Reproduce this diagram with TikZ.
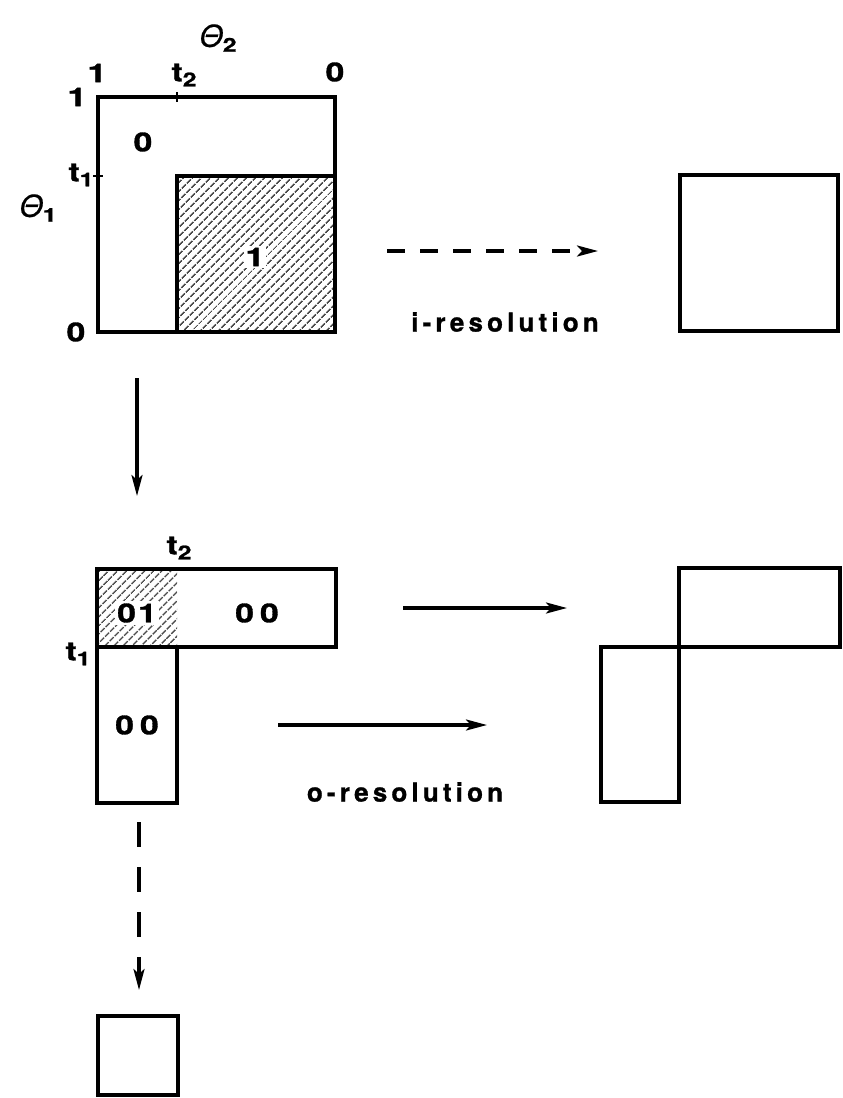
\documentclass[tikz,border=0pt]{standalone}
\usepackage{fontspec}
\setmainfont{TeX Gyre Heros}
\newfontfamily\labfont[FakeStretch=1.3,FakeBold=1.2]{TeX Gyre Heros}
\newfontfamily\grfont[FakeBold=0.6]{TeX Gyre Heros}
\newfontfamily\resfont[LetterSpace=16,FakeBold=1]{TeX Gyre Heros}
\usetikzlibrary{arrows.meta,patterns.meta}
\newcommand{\lsub}[2]{#1\raisebox{-5pt}{\fontsize{19}{19}\selectfont #2}}
\begin{document}
\begin{tikzpicture}[x=1pt,y=-1pt,
  outline/.style={line width=3.6pt, line join=miter},
  hatch/.style={pattern={Lines[angle=45,distance=6.5pt,line width=1.6pt]}, pattern color=black!70},
  arr/.style={line width=3.2pt, -{Stealth[length=21pt,width=11pt,inset=5pt]}},
  darrh/.style={arr, dash pattern=on 18pt off 15pt},
  darrv/.style={arr, dash pattern=on 25pt off 20pt},
  num/.style={font=\labfont\bfseries\fontsize{26}{26}\selectfont, inner sep=1pt},
  hnum/.style={num, fill=white, inner sep=2pt},
  greek/.style={font=\grfont\fontsize{30}{30}\selectfont\itshape, inner sep=0pt},
  res/.style={font=\resfont\bfseries\fontsize{26}{26}\selectfont, inner sep=0pt},
  tick/.style={line width=1.8pt}]
\path[use as bounding box] (0,0) rectangle (843,1098);

% ---- unit square with the region theta >= t ----
\fill[hatch] (177,176) rectangle (335,332);
\draw[outline] (98,97) rectangle (335,332);
\draw[outline] (177,332) -- (177,176) -- (335,176);
\draw[tick] (177,92) -- (177,102);
\draw[tick] (93,176) -- (103,176);
\node[greek] (th2) at (218,38) {\lsub{Θ}{\upshape\labfont\bfseries 2}};
\node[greek] (th1) at (38,208) {\lsub{Θ}{\upshape\labfont\bfseries 1}};
\node[num] (top1) at (97,73) {1};
\node[num] (topt2) at (184,75) {\lsub{t}{2}};
\node[num] (top0) at (335,72) {0};
\node[num] (left1) at (77,97) {1};
\node[num] (leftt1) at (81,175) {\lsub{t}{1}};
\node[num] (left0) at (76,332) {0};
\node[num] (in0) at (143,142) {0};
\node[hnum] (in1) at (255,257) {1};

% ---- square after i-resolution ----
\draw[outline] (680,175) rectangle (838,331);
\coordinate (ia) at (387,251);
\coordinate (ib) at (598,251);
\draw[darrh] (ia) -- (ib);
\node[res] (ires) at (505,322) {i-resolution};

% ---- downward arrow ----
\coordinate (da) at (137,378);
\coordinate (db) at (137,496);
\draw[arr] (da) -- (db);

% ---- L-shaped region split at t1, t2 ----
\fill[hatch] (97,569) rectangle (177,647);
\draw[outline] (97,569) rectangle (336,647);
\draw[outline] (97,647) rectangle (177,803);
\node[num] (mt2) at (179,548) {\lsub{t}{2}};
\node[num] (mt1) at (78,654) {\lsub{t}{1}};
\node[hnum] (m01) at (137,613) {0\kern2pt1};
\node[num] (m00a) at (257,613) {0\kern6pt0};
\node[num] (m00b) at (137,725) {0\kern6pt0};

% ---- arrows for o-resolution ----
\coordinate (oa) at (403,608);
\coordinate (ob) at (567,608);
\draw[arr] (oa) -- (ob);
\coordinate (oc) at (278,725);
\coordinate (od) at (487,725);
\draw[arr] (oc) -- (od);
\node[res] (ores) at (405,792) {o-resolution};

% ---- shifted region after o-resolution ----
\draw[outline] (679,568) rectangle (840,647);
\draw[outline] (601,647) rectangle (679,802);

% ---- dashed downward arrow and small square ----
\coordinate (va) at (139,822);
\coordinate (vb) at (139,990);
\draw[darrv] (va) -- (vb);
\draw[outline] (98,1016) rectangle (178,1095);
\end{tikzpicture}
\end{document}
